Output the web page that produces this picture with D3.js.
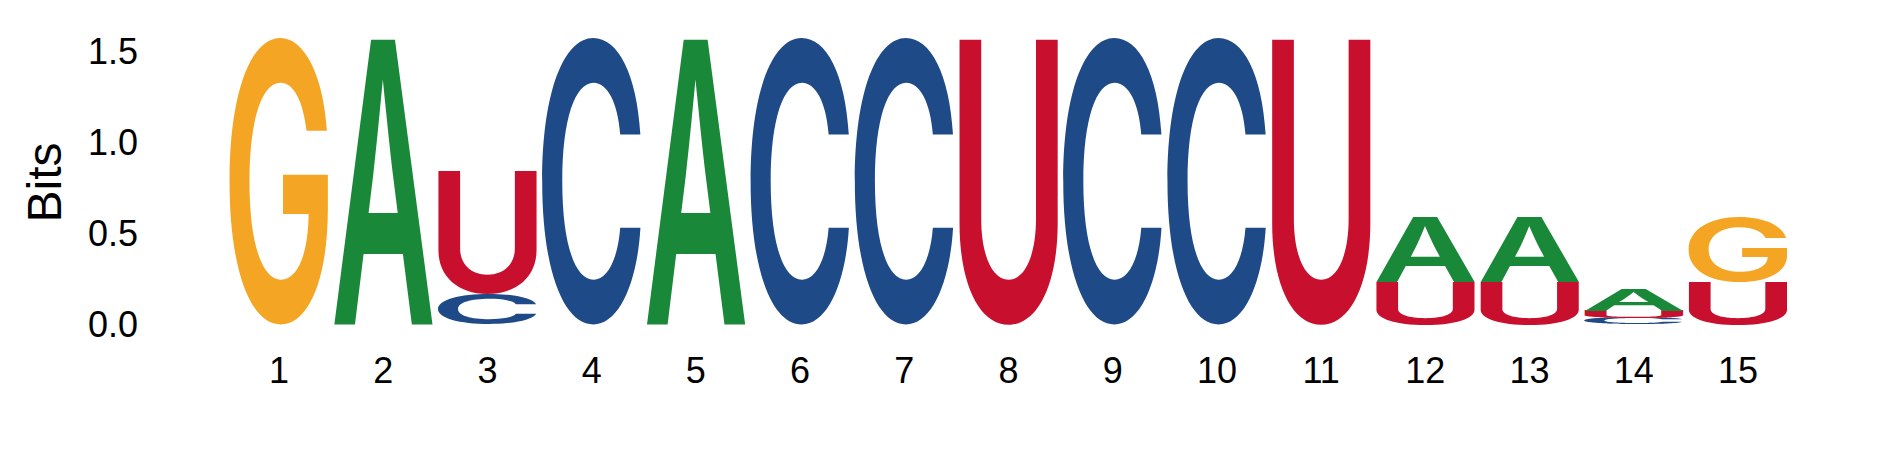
<!DOCTYPE html>
<html>
<head>
<meta charset="utf-8">
<script src="https://cdn.jsdelivr.net/npm/d3@7"></script>
<style>
  body { margin: 0; background: #fff; }
  text { font-family: "Liberation Sans", Arial, Helvetica, sans-serif; }
</style>
</head>
<body>
<div class="container"></div>
<script>
const WIDTH = 1889;
const HEIGHT = 472;

// positions along the motif
var positions = [1, 2, 3, 4, 5, 6, 7, 8, 9, 10, 11, 12, 13, 14, 15];

// information (bits) per letter at each position
var bitsA = [0, 1.57, 0, 0, 1.57, 0, 0, 0, 0, 0, 0, 0.356, 0.356, 0.119, 0];
var bitsC = [0, 0, 0.168, 1.57, 0, 1.57, 1.57, 0, 1.57, 1.57, 0, 0, 0, 0.036, 0];
var bitsG = [1.57, 0, 0, 0, 0, 0, 0, 0, 0, 0, 0, 0, 0, 0, 0.356];
var bitsU = [0, 0, 0.675, 0, 0, 0, 0, 1.57, 0, 0, 1.57, 0.236, 0.236, 0.04, 0.236];

var yTicks = [0, 0.5, 1.0, 1.5];

var colors = {A: "#1a8839", C: "#1f4a88", G: "#f3a523", U: "#c8102e"};

var GLYPH_FONT = "Inter, 'Liberation Sans', Arial, sans-serif";
var GLYPH_WEIGHT = 600;

// tight ink box of a glyph, so it can be stretched to fill its cell
var ctx = document.createElement("canvas").getContext("2d");
ctx.font = GLYPH_WEIGHT + " 200px " + GLYPH_FONT;
var glyphBox = function(ch){
    var m = ctx.measureText(ch);
    return {
        left: m.actualBoundingBoxLeft,
        width: m.actualBoundingBoxLeft + m.actualBoundingBoxRight,
        ascent: m.actualBoundingBoxAscent,
        height: m.actualBoundingBoxAscent + m.actualBoundingBoxDescent
    };
};

var load = function(){
    var x = d3.scaleBand()
        .domain(positions)
        .range([226.9, 1790.1])
        .paddingInner(0.05)
        .paddingOuter(0.025);

    var y = d3.scaleLinear()
        .domain([0, 1.5])
        .range([324.5, 51.5]);

    var svg = d3.select(".container")
        .append("svg")
        .attr("width", WIDTH)
        .attr("height", HEIGHT);

    // build stacks: biggest letter on top
    var stacks = positions.map(function(p, i){
        var letters = [
            {ch: "A", v: bitsA[i]},
            {ch: "C", v: bitsC[i]},
            {ch: "G", v: bitsG[i]},
            {ch: "U", v: bitsU[i]}
        ].filter(function(d){ return d.v > 0; })
         .sort(function(a, b){ return a.v - b.v; });
        var base = 0;
        letters.forEach(function(d){
            d.y0 = base;
            d.y1 = base + d.v;
            base = d.y1;
        });
        return {pos: p, letters: letters};
    });

    var cols = svg.append("g").selectAll("g")
        .data(stacks)
        .enter()
        .append("g");

    cols.selectAll("text")
        .data(function(d){
            return d.letters.map(function(l){ return Object.assign({pos: d.pos}, l); });
        })
        .enter()
        .append("text")
        .text(function(d){ return d.ch; })
        .style("font-family", GLYPH_FONT)
        .style("font-size", "200px")
        .style("font-weight", GLYPH_WEIGHT)
        .attr("fill", function(d){ return colors[d.ch]; })
        .attr("transform", function(d){
            var b = glyphBox(d.ch);
            var bx = x(d.pos), bw = x.bandwidth();
            var by = y(d.y1), bh = y(d.y0) - y(d.y1);
            var sx = bw / b.width, sy = bh / b.height;
            return "translate(" + bx + "," + by + ") scale(" + sx + "," + sy + ") translate(" + b.left + "," + b.ascent + ")";
        });

    // y axis, labels only
    var yAxis = svg.append("g")
        .attr("transform", "translate(138,0)")
        .call(d3.axisLeft(y).tickValues(yTicks).tickFormat(d3.format(".1f")).tickSize(0).tickPadding(0));
    yAxis.select(".domain").remove();
    yAxis.selectAll("text")
        .style("font-size", "36px")
        .attr("fill", "#000");

    // x axis, position numbers
    var xAxis = svg.append("g")
        .attr("transform", "translate(0,357)")
        .call(d3.axisBottom(x).tickSize(0).tickPadding(0));
    xAxis.select(".domain").remove();
    xAxis.selectAll("text")
        .style("font-size", "36px")
        .attr("fill", "#000");

    svg.append("text")
        .attr("transform", "translate(61,182.5) rotate(-90)")
        .attr("text-anchor", "middle")
        .style("font-size", "48px")
        .text("Bits");
};

window.onload = load;
</script>
</body>
</html>
